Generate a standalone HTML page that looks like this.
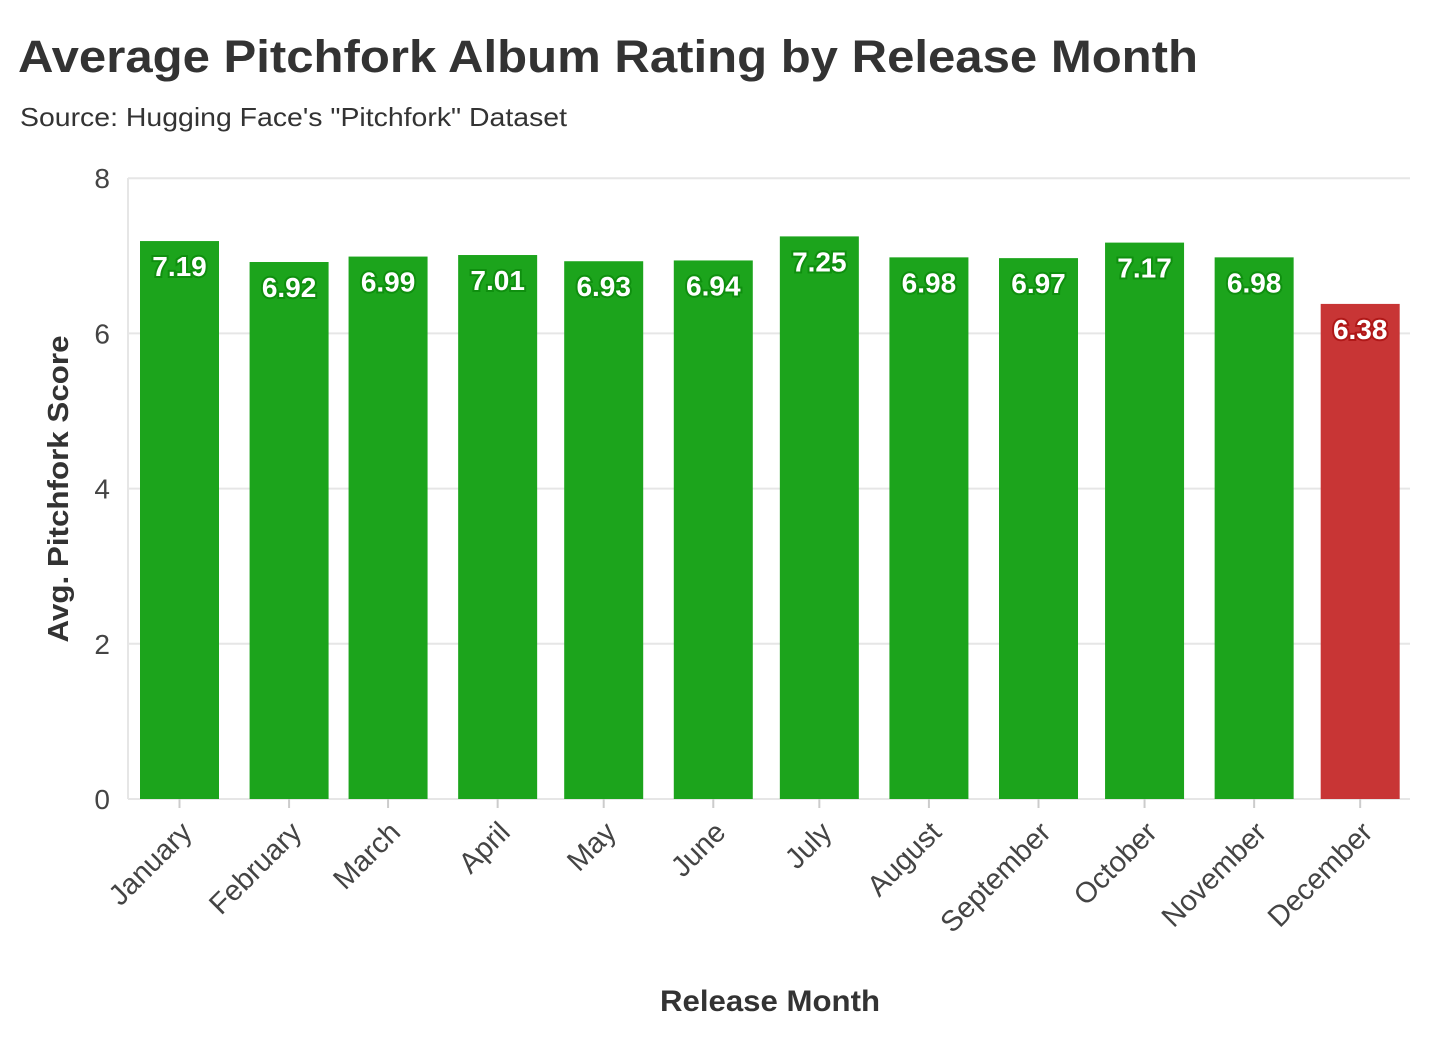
<!DOCTYPE html>
<html><head><meta charset="utf-8"><style>
body{margin:0;background:#fff;width:1456px;height:1054px;overflow:hidden;font-family:"Liberation Sans",sans-serif;}
</style></head><body>
<svg id="chart" width="1456" height="1054" xmlns="http://www.w3.org/2000/svg">
<text x="18" y="72" font-size="45" font-weight="bold" fill="#333" textLength="1180" lengthAdjust="spacingAndGlyphs">Average Pitchfork Album Rating by Release Month</text>
<text x="20" y="126" font-size="26" fill="#333" textLength="547" lengthAdjust="spacingAndGlyphs">Source: Hugging Face's "Pitchfork" Dataset</text>
<g id="grid"></g><g id="bars"></g><g id="labels"></g><g id="xt"></g>
<text transform="translate(68,489) rotate(-90)" text-anchor="middle" font-size="29" font-weight="bold" fill="#333" textLength="307" lengthAdjust="spacingAndGlyphs">Avg. Pitchfork Score</text>
<text x="770" y="1011" text-anchor="middle" font-size="30" font-weight="bold" fill="#333" textLength="220" lengthAdjust="spacingAndGlyphs">Release Month</text>
</svg>
<script>
const months=["January","February","March","April","May","June","July","August","September","October","November","December"];
const monthStartDay=[0,31,59,90,120,151,181,212,243,273,304,334];
const scores=[7.19,6.92,6.99,7.01,6.93,6.94,7.25,6.98,6.97,7.17,6.98,6.38];
const yTicks=[0,2,4,6,8];
const NS="http://www.w3.org/2000/svg";
const x0=179.5,pxDay=3.535,y0=799,pxU=77.6,bw=79;
const X=d=>x0+d*pxDay, Y=v=>y0-v*pxU;
function mk(t,a,p){const e=document.createElementNS(NS,t);for(const k in a)e.setAttribute(k,a[k]);document.getElementById(p).appendChild(e);return e;}
yTicks.forEach(v=>{
 const l=mk('line',{x1:128,x2:1410,y1:Y(v),y2:Y(v),stroke:'#e6e6e6','stroke-width':2},'grid');
 
 
 const t=mk('text',{x:110,y:Y(v)+10,'text-anchor':'end','font-size':28,fill:'#444'},'grid');
 t.textContent=v;
 
 
});
mk('line',{x1:128,x2:128,y1:178,y2:799,stroke:'#e6e6e6','stroke-width':2},'grid');
scores.forEach((v,i)=>{
 const cx=X(monthStartDay[i]);const low=i===11;
 const b=mk('rect',{x:cx-bw/2,y:Y(v),width:bw,height:Y(0)-Y(v),fill:low?'#c83535':'#1ca41c'},'bars');
 
 
 const t=mk('text',{x:cx,y:Y(v)+35,'text-anchor':'middle','font-size':28,'font-weight':'bold',fill:'#fff',stroke:low?'#b01818':'#0f8f0f','stroke-width':4,'paint-order':'stroke'},'labels');
 t.textContent=v.toFixed(2);
 
 
 mk('line',{x1:cx,x2:cx,y1:799,y2:808,stroke:'#ccc','stroke-width':2},'xt');
 const m=mk('text',{transform:`translate(${cx+14},${834}) rotate(-45)`,'text-anchor':'end','font-size':29,fill:'#444'},'xt');
 m.textContent=months[i];
 
 
});
</script>
</body></html>
